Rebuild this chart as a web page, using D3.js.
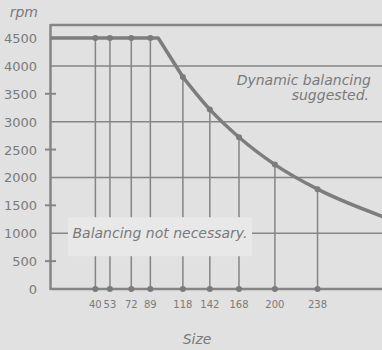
<!DOCTYPE html>
<html>
<head>
<meta charset="utf-8">
<script src="https://cdn.jsdelivr.net/npm/d3@7"></script>
<style>
  html, body { margin: 0; padding: 0; background: #e1e1e1; }
  svg { display: block; font-family: "DejaVu Sans", sans-serif; }
</style>
</head>
<body>
<svg id="chart" width="382" height="350"></svg>
<script>
// Balancing limits: max speed (rpm) per size
const sizes = [40, 53, 72, 89, 118, 142, 168, 200, 238];
const sizeRpm = [4500, 4500, 4500, 4500, 3800, 3220, 2720, 2230, 1790];

// Limit curve (size, rpm) separating the two balancing regions
const limitSize = [0, 96, 118, 142, 168, 200, 238, 300];
const limitRpm = [4500, 4500, 3800, 3220, 2720, 2230, 1790, 1270];

const yTickValues = [0, 500, 1000, 1500, 2000, 2500, 3000, 3500, 4000, 4500];
const yGridValues = [1000, 2000, 3000, 4000];
const yMarkValues = [500, 1500, 2500, 3500];

const W = 382, H = 350;
const plotLeft = 50.5, plotBottom = 289, plotTop = 25;
const lineColor = "#858585";
const textColor = "#7a7a7a";

const svg = d3.select("#chart");

const x = d3.scaleLinear().domain([0, 300]).range([plotLeft, plotLeft + 300 * 1.122]);
const y = d3.scaleLinear().domain([0, 4500]).range([plotBottom, 38]);

svg.append("rect").attr("width", W).attr("height", H).attr("fill", "#e1e1e1");

// Horizontal gridlines
svg.append("g").selectAll("line").data(yGridValues).join("line")
  .attr("x1", plotLeft).attr("x2", W)
  .attr("y1", d => y(d)).attr("y2", d => y(d))
  .attr("stroke", lineColor).attr("stroke-width", 1.5);

// Short tick marks on the odd half-thousands
svg.append("g").selectAll("line").data(yMarkValues).join("line")
  .attr("x1", plotLeft - 5.5).attr("x2", plotLeft + 5.5)
  .attr("y1", d => y(d)).attr("y2", d => y(d))
  .attr("stroke", lineColor).attr("stroke-width", 2);

// Drop lines from each size point to the axis
svg.append("g").selectAll("line").data(sizes).join("line")
  .attr("x1", d => x(d)).attr("x2", d => x(d))
  .attr("y1", (d, i) => y(sizeRpm[i])).attr("y2", plotBottom)
  .attr("stroke", lineColor).attr("stroke-width", 1.5);

// Region label box
const boxY = y(1000);
svg.append("rect")
  .attr("x", 68).attr("y", boxY - 16).attr("width", 184).attr("height", 39)
  .attr("fill", "#e8e8e8");
svg.append("text")
  .attr("x", 160).attr("y", boxY + 5)
  .attr("text-anchor", "middle")
  .attr("font-size", 14).attr("font-style", "italic")
  .attr("fill", textColor)
  .text("Balancing not necessary.");

// Frame: top line, y axis, x axis
svg.append("line").attr("x1", plotLeft).attr("x2", W).attr("y1", plotTop).attr("y2", plotTop)
  .attr("stroke", lineColor).attr("stroke-width", 2.5);
svg.append("line").attr("x1", plotLeft).attr("x2", plotLeft).attr("y1", plotTop - 1).attr("y2", plotBottom + 1)
  .attr("stroke", lineColor).attr("stroke-width", 2.5);
svg.append("line").attr("x1", plotLeft).attr("x2", W).attr("y1", plotBottom).attr("y2", plotBottom)
  .attr("stroke", lineColor).attr("stroke-width", 2.5);

// Limit curve: straight plateau and knee, smooth fall-off after
const pts = limitSize.map((s, i) => [x(s), y(limitRpm[i])]);
const straight = d3.line().curve(d3.curveLinear);
const smooth = d3.line().curve(d3.curveMonotoneX);
svg.append("path").attr("d", straight(pts.slice(0, 3)))
  .attr("fill", "none").attr("stroke", "#7d7d7d").attr("stroke-width", 3.5)
  .attr("stroke-linejoin", "round");
svg.append("path").attr("d", smooth(pts.slice(2)))
  .attr("fill", "none").attr("stroke", "#7d7d7d").attr("stroke-width", 3.5)
  .attr("stroke-linejoin", "round");

// Dots on the curve and on the axis
const dots = svg.append("g").attr("fill", "#7b7b7b");
dots.selectAll(".upper").data(sizes).join("circle").attr("class", "upper")
  .attr("cx", d => x(d)).attr("cy", (d, i) => y(sizeRpm[i])).attr("r", 3);
dots.selectAll(".base").data(sizes).join("circle").attr("class", "base")
  .attr("cx", d => x(d)).attr("cy", plotBottom).attr("r", 3);

// Y tick labels
svg.append("g").selectAll("text").data(yTickValues).join("text")
  .attr("x", 37).attr("y", d => y(d) + 5)
  .attr("text-anchor", "end")
  .attr("font-size", 13).attr("fill", textColor)
  .text(d => d);

// X tick labels
svg.append("g").selectAll("text").data(sizes).join("text")
  .attr("x", d => x(d)).attr("y", 307.5)
  .attr("text-anchor", "middle")
  .attr("font-size", 10).attr("fill", textColor)
  .text(d => d);

// Axis titles
svg.append("text").attr("x", 38).attr("y", 17)
  .attr("text-anchor", "end").attr("font-size", 14).attr("font-style", "italic")
  .attr("fill", textColor).text("rpm");
svg.append("text").attr("x", 197).attr("y", 344)
  .attr("text-anchor", "middle").attr("font-size", 14).attr("font-style", "italic")
  .attr("fill", textColor).text("Size");

// Upper-region note
const note = svg.append("text").attr("text-anchor", "end")
  .attr("font-size", 14).attr("font-style", "italic").attr("fill", textColor);
note.append("tspan").attr("x", 371).attr("y", 85).text("Dynamic balancing");
note.append("tspan").attr("x", 369).attr("y", 100).text("suggested.");
</script>
</body>
</html>
